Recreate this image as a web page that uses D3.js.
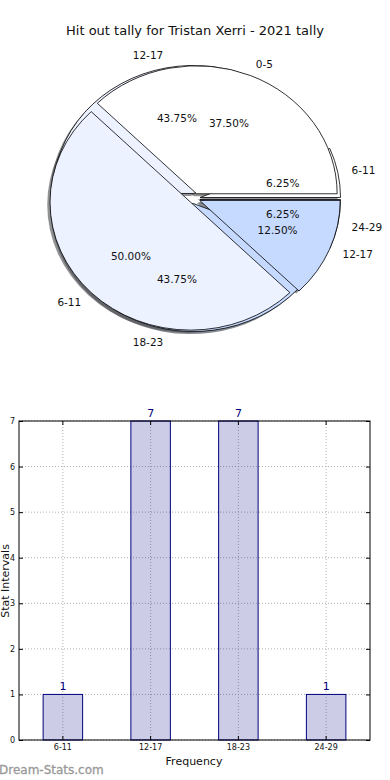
<!DOCTYPE html>
<html>
<head>
<meta charset="utf-8">
<script src="https://cdn.jsdelivr.net/npm/d3@7"></script>
<style>
  html, body { margin: 0; padding: 0; background: #fff; }
  svg { display: block; font-family: "DejaVu Sans", sans-serif; }
</style>
</head>
<body>
<svg id="chart" width="390" height="780"></svg>
<script>
// ---- data ----
const title = "Hit out tally for Tristan Xerri - 2021 tally";
// first (underlying) pie: the 2021 tally
const pieACategories = ["6-11", "12-17", "18-23", "24-29"];
const pieAValues = [1, 7, 7, 1];
// second (overlaid) pie
const pieBCategories = ["0-5", "6-11", "12-17"];
const pieBValues = [6, 8, 2];
const pieColors = ["#ffffff", "#ecf2ff", "#c6d9ff", "#a8c4ff"];

const barCategories = ["6-11", "12-17", "18-23", "24-29"];
const barValues = [1, 7, 7, 1];
const yTicks = [0, 1, 2, 3, 4, 5, 6, 7];

// ---- drawing ----
const svg = d3.select("#chart");

svg.append("text")
  .attr("x", 195).attr("y", 30)
  .attr("text-anchor", "middle").attr("dominant-baseline", "central")
  .attr("font-size", 13).attr("fill", "#111")
  .text(title);

const cx = 194.5, cy = 198.5, rx = 140.5, ry = 128, R = 100;
const explode = 0.04;

const pieGen = d3.pie().sort(null).value(d => d.v)
  .startAngle(Math.PI / 2).endAngle(Math.PI / 2 - 2 * Math.PI);
const arcGen = d3.arc().innerRadius(0).outerRadius(R);

function build(cats, vals) {
  return pieGen(cats.map((c, i) => ({ c, v: vals[i], i })));
}
const pies = [build(pieACategories, pieAValues), build(pieBCategories, pieBValues)];
const total = arr => d3.sum(arr, d => d.value);

function offset(d) {
  const a = (d.startAngle + d.endAngle) / 2;
  return { a, dx: explode * rx * Math.sin(a), dy: -explode * ry * Math.cos(a) };
}

const gShadow = svg.append("g");
const gWedge = svg.append("g");
const gText = svg.append("g");

function darker(c) {
  const col = d3.rgb(c);
  return d3.rgb(col.r * 0.3, col.g * 0.3, col.b * 0.3).toString();
}

pies.forEach(p => {
  p.forEach(d => {
    const o = offset(d);
    const color = pieColors[d.data.i % pieColors.length];
    gShadow.append("path")
      .attr("d", arcGen(d))
      .attr("transform", `translate(${cx + o.dx - 2.8},${cy + o.dy + 2.6}) scale(${rx / R},${ry / R})`)
      .attr("fill", darker(color)).attr("fill-opacity", 0.6)
      .attr("stroke", "none");
  });
});

pies.forEach(p => {
  const t = total(p);
  p.forEach(d => {
    const o = offset(d);
    const color = pieColors[d.data.i % pieColors.length];
    gWedge.append("path")
      .attr("d", arcGen(d))
      .attr("transform", `translate(${cx + o.dx},${cy + o.dy}) scale(${rx / R},${ry / R})`)
      .attr("fill", color)
      .attr("stroke", "#000").attr("stroke-width", 0.8)
      .attr("stroke-linejoin", "round")
      .attr("vector-effect", "non-scaling-stroke");
    const sx = Math.sin(o.a), sy = -Math.cos(o.a);
    gText.append("text")
      .attr("x", cx + o.dx + 1.1 * rx * sx)
      .attr("y", cy + o.dy + 1.1 * ry * sy)
      .attr("text-anchor", sx > 0 ? "start" : "end")
      .attr("dominant-baseline", "central")
      .attr("font-size", 10.5).attr("fill", "#111")
      .text(d.data.c);
    gText.append("text")
      .attr("x", cx + o.dx + 0.6 * rx * sx)
      .attr("y", cy + o.dy + 0.6 * ry * sy)
      .attr("text-anchor", "middle")
      .attr("dominant-baseline", "central")
      .attr("font-size", 10.5).attr("fill", "#111")
      .text(d3.format(".2f")(d.value / t * 100) + "%");
  });
});

// ---- bar chart ----
const pLeft = 19, pRight = 370, pTop = 421, pBottom = 740;
const x = d3.scaleBand().domain(barCategories).range([pLeft, pRight])
  .paddingInner(0.55).paddingOuter(0.275);
const y = d3.scaleLinear().domain([0, 7]).range([pBottom, pTop]);

const bg = svg.append("g");
// grid
bg.selectAll("line.gy").data(yTicks).join("line")
  .attr("x1", pLeft).attr("x2", pRight)
  .attr("y1", d => y(d)).attr("y2", d => y(d))
  .attr("stroke", "#b0b0b0").attr("stroke-width", 1)
  .attr("stroke-dasharray", "1,2");
bg.selectAll("line.gx").data(barCategories).join("line")
  .attr("x1", d => x(d) + x.bandwidth() / 2).attr("x2", d => x(d) + x.bandwidth() / 2)
  .attr("y1", pTop).attr("y2", pBottom)
  .attr("stroke", "#b0b0b0").attr("stroke-width", 1)
  .attr("stroke-dasharray", "1,2");

// bars
bg.selectAll("rect.bar").data(barValues).join("rect")
  .attr("x", (d, i) => x(barCategories[i]))
  .attr("y", d => y(d))
  .attr("width", x.bandwidth())
  .attr("height", d => pBottom - y(d))
  .attr("fill", "#000080").attr("fill-opacity", 0.2)
  .attr("stroke", "#000080").attr("stroke-width", 1);

bg.selectAll("text.val").data(barValues).join("text")
  .attr("x", (d, i) => x(barCategories[i]) + x.bandwidth() / 2)
  .attr("y", d => y(d) - 4)
  .attr("text-anchor", "middle")
  .attr("font-size", 11).attr("fill", "#000080")
  .text(d => d);

// frame
bg.append("rect")
  .attr("x", pLeft).attr("y", pTop)
  .attr("width", pRight - pLeft).attr("height", pBottom - pTop)
  .attr("fill", "none").attr("stroke", "#000").attr("stroke-width", 1);

// axes (ticks inward)
const yAxisL = d3.axisLeft(y).tickValues(yTicks).tickFormat(d3.format("d"))
  .tickSizeInner(-4).tickSizeOuter(0).tickPadding(4);
const yAxisR = d3.axisRight(y).tickValues(yTicks).tickSizeInner(-4).tickSizeOuter(0).tickFormat("");
const xAxisB = d3.axisBottom(x).tickSizeInner(-4).tickSizeOuter(0).tickPadding(4.5);
const xAxisT = d3.axisTop(x).tickSizeInner(-4).tickSizeOuter(0).tickFormat("");

function styleAxis(g) {
  g.select(".domain").remove();
  g.selectAll("text").attr("font-size", 8).attr("fill", "#111")
    .attr("font-family", "DejaVu Sans, sans-serif");
  g.selectAll("line").attr("stroke", "#000");
}
bg.append("g").attr("transform", `translate(${pLeft},0)`).call(yAxisL).call(styleAxis);
bg.append("g").attr("transform", `translate(${pRight},0)`).call(yAxisR).call(styleAxis);
bg.append("g").attr("transform", `translate(0,${pBottom})`).call(xAxisB).call(styleAxis);
bg.append("g").attr("transform", `translate(0,${pTop})`).call(xAxisT).call(styleAxis);

svg.append("text")
  .attr("x", 194).attr("y", 761)
  .attr("text-anchor", "middle").attr("dominant-baseline", "central")
  .attr("font-size", 11).attr("fill", "#111")
  .text("Frequency");

svg.append("text")
  .attr("transform", "translate(9,581) rotate(-90)")
  .attr("text-anchor", "middle")
  .attr("font-size", 11).attr("fill", "#111")
  .text("Stat Intervals");

svg.append("text")
  .attr("x", -1).attr("y", 770)
  .attr("dominant-baseline", "central")
  .attr("font-size", 12).attr("fill", "#999")
  .attr("stroke", "#999").attr("stroke-width", 0.3)
  .text("Dream-Stats.com");
</script>
</body>
</html>
